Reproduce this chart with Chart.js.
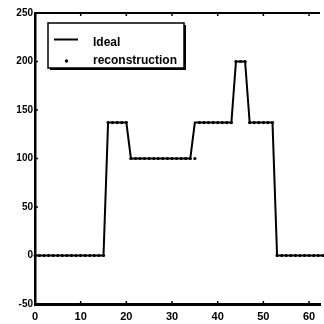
<!DOCTYPE html>
<html>
<head>
<meta charset="utf-8">
<script src="https://cdn.jsdelivr.net/npm/chart.js@4/dist/chart.umd.min.js"></script>
<style>
  html, body { margin: 0; padding: 0; background: #fff; }
  #wrap { width: 324px; height: 324px; position: relative; }
</style>
</head>
<body>
<div id="wrap"><canvas id="c" width="324" height="324"></canvas></div>
<script>
// Sample index 0..63
const samples = [
  0,1,2,3,4,5,6,7,8,9,10,11,12,13,14,15,
  16,17,18,19,20,21,22,23,24,25,26,27,28,29,30,31,
  32,33,34,35,36,37,38,39,40,41,42,43,44,45,46,47,
  48,49,50,51,52,53,54,55,56,57,58,59,60,61,62,63
];
// Ideal piecewise-constant signal
const ideal = [
  0,0,0,0,0,0,0,0,0,0,0,0,0,0,0,0,
  137,137,137,137,137,100,100,100,100,100,100,100,100,100,100,100,
  100,100,100,137,137,137,137,137,137,137,137,137,200,200,200,137,
  137,137,137,137,137,0,0,0,0,0,0,0,0,0,0,0
];
// Reconstructed samples
const reconstruction = [
  0,0,0,0,0,0,0,0,0,0,0,0,0,0,0,0,
  137,137,137,137,137,100,100,100,100,100,100,100,100,100,100,100,
  100,100,100,100,137,137,137,137,137,137,137,137,200,200,200,137,
  137,137,137,137,137,0,0,0,0,0,0,0,0,0,0,0
];
const xTicks = [0, 10, 20, 30, 40, 50, 60];
const yTicks = [-50, 0, 50, 100, 150, 200, 250];
const seriesNames = ['Ideal', 'reconstruction'];

const tickFont = { family: "'Liberation Sans Narrow', 'Liberation Sans', Arial, sans-serif", size: 11, weight: 'bold' };

// Box frame, inward tick marks and the boxed legend
const framePlugin = {
  id: 'frame',
  afterDraw(chart) {
    const { ctx, chartArea: a, scales } = chart;
    ctx.save();
    ctx.strokeStyle = '#000';
    // top edge
    ctx.lineWidth = 2;
    ctx.beginPath();
    ctx.moveTo(a.left, a.top);
    ctx.lineTo(a.right, a.top);
    ctx.stroke();
    // inward ticks
    ctx.lineWidth = 1.5;
    ctx.beginPath();
    for (const v of xTicks) {
      const px = scales.x.getPixelForValue(v);
      ctx.moveTo(px, a.bottom); ctx.lineTo(px, a.bottom - 3);
      ctx.moveTo(px, a.top); ctx.lineTo(px, a.top + 3);
    }
    for (const v of yTicks) {
      const py = scales.y.getPixelForValue(v);
      ctx.moveTo(a.left, py); ctx.lineTo(a.left + 3, py);
    }
    ctx.stroke();

    // legend
    const bx = 48, by = 23, bw = 136, bh = 45;
    ctx.fillStyle = '#fff';
    ctx.fillRect(bx, by, bw, bh);
    ctx.lineWidth = 1.5;
    ctx.strokeRect(bx, by, bw, bh);
    ctx.lineWidth = 2;
    ctx.beginPath();
    ctx.moveTo(bx + bw + 1, by + 2); ctx.lineTo(bx + bw + 1, by + bh + 1); ctx.lineTo(bx + 2, by + bh + 1);
    ctx.stroke();

    const ds = chart.data.datasets;
    ctx.strokeStyle = ds[0].borderColor;
    ctx.lineWidth = ds[0].borderWidth;
    ctx.beginPath();
    ctx.moveTo(54, 39.5); ctx.lineTo(78, 39.5);
    ctx.stroke();
    ctx.fillStyle = ds[1].pointBackgroundColor;
    ctx.beginPath();
    ctx.arc(66.5, 61, 1.7, 0, Math.PI * 2);
    ctx.fill();

    ctx.fillStyle = '#000';
    ctx.font = "bold 12px 'Liberation Sans', Arial, sans-serif";
    ctx.textBaseline = 'alphabetic';
    ctx.textAlign = 'left';
    ctx.fillText(ds[0].label, 93, 45.5);
    ctx.fillText(ds[1].label, 93, 63.5);
    ctx.restore();
  }
};

new Chart(document.getElementById('c'), {
  type: 'line',
  data: {
    datasets: [
      {
        label: seriesNames[0],
        data: samples.map((x, i) => ({ x, y: ideal[i] })),
        borderColor: '#000',
        borderWidth: 2,
        pointRadius: 0,
        tension: 0,
        fill: false
      },
      {
        label: seriesNames[1],
        data: samples.map((x, i) => ({ x, y: reconstruction[i] })),
        showLine: false,
        pointRadius: 1.6,
        pointBorderWidth: 0,
        pointBackgroundColor: '#000',
        pointBorderColor: '#000'
      }
    ]
  },
  options: {
    responsive: false,
    animation: false,
    clip: false,
    layout: { padding: { top: 13, right: 0, left: 0, bottom: 0 } },
    plugins: { legend: { display: false }, tooltip: { enabled: false } },
    scales: {
      x: {
        type: 'linear',
        min: 0,
        max: 62.4,
        afterBuildTicks: s => { s.ticks = xTicks.map(v => ({ value: v })); },
        afterFit: s => { s.height = 20; },
        grid: { display: false, drawTicks: false },
        border: { display: true, color: '#000', width: 3 },
        ticks: { color: '#000', font: tickFont, padding: 6, maxRotation: 0, autoSkip: false }
      },
      y: {
        min: -50,
        max: 250,
        afterBuildTicks: s => { s.ticks = yTicks.map(v => ({ value: v })); },
        afterFit: s => { s.width = 35; },
        grid: { display: false, drawTicks: false },
        border: { display: true, color: '#000', width: 2.5 },
        ticks: { color: '#000', font: { ...tickFont, size: 10 }, padding: 2 }
      }
    }
  },
  plugins: [framePlugin]
});
</script>
</body>
</html>
